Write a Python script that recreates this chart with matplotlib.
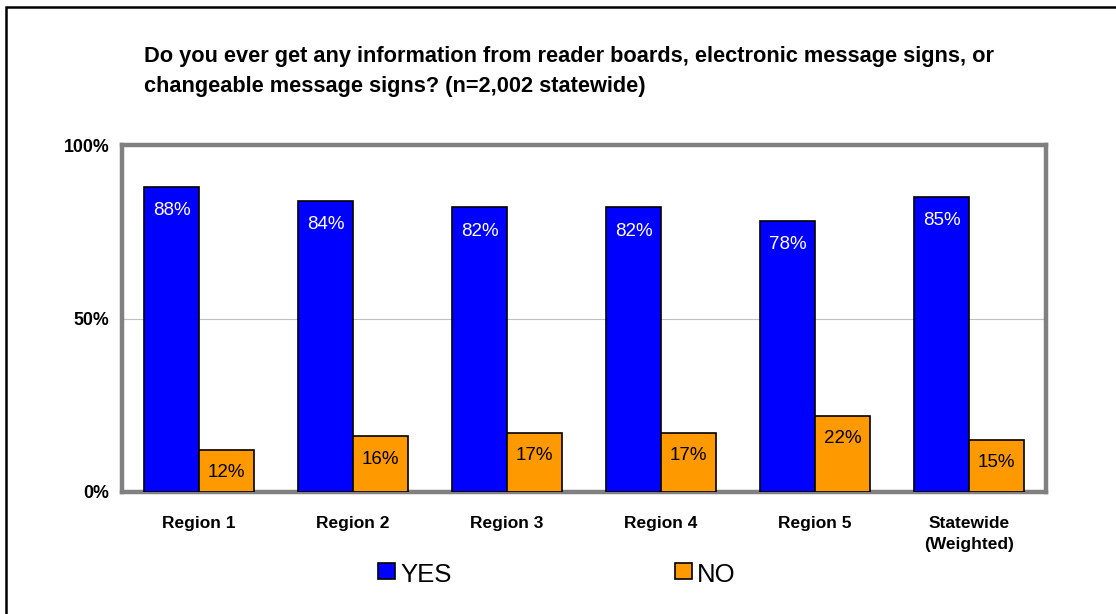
import matplotlib
matplotlib.use("Agg")
import matplotlib.pyplot as plt
from matplotlib.patches import Rectangle
import numpy as np

plt.rcParams["font.family"] = ["Liberation Sans", "DejaVu Sans"]

CATEGORIES = ["Region 1", "Region 2", "Region 3", "Region 4", "Region 5", "Statewide\n(Weighted)"]
YES = [88, 84, 82, 82, 78, 85]
NO = [12, 16, 17, 17, 22, 15]
Y_TICKS = [0, 50, 100]
TITLE = ("Do you ever get any information from reader boards, electronic message signs, or\n"
         "changeable message signs? (n=2,002 statewide)")

W, H = 1116, 614
fig = plt.figure(figsize=(W / 100, H / 100), dpi=100)

# outer black frame (runs off the right and bottom edges)
fig.add_artist(Rectangle((5.5 / W, -0.05), 1.2, (H - 7) / H + 0.05,
                         transform=fig.transFigure, fill=False, edgecolor="black", lw=1.8))

ax = fig.add_axes([122 / W, 1 - 492 / H, (1046 - 122) / W, (492 - 145) / H])
x = np.arange(len(CATEGORIES))
bw = 0.355
yes_bars = ax.bar(x - bw / 2, YES, bw, color="#0000ff", edgecolor="black", lw=1.2, label="YES", zorder=3)
no_bars = ax.bar(x + bw / 2, NO, bw, color="#ff9900", edgecolor="black", lw=1.2, label="NO", zorder=3)

for b, v in zip(yes_bars, YES):
    ax.text(b.get_x() + b.get_width() / 2, v - 6.8, f"{v}%", ha="center", va="center",
            color="white", fontsize=13.5, zorder=4)
for b, v in zip(no_bars, NO):
    ax.text(b.get_x() + b.get_width() / 2, v - 6.5, f"{v}%", ha="center", va="center",
            color="black", fontsize=13.5, zorder=4)

ax.set_xlim(-0.5, len(CATEGORIES) - 0.5)
ax.set_ylim(0, 100)
ax.set_yticks(Y_TICKS)
ax.set_yticklabels([f"{t}%" for t in Y_TICKS], fontweight="bold", fontsize=12.8)
ax.axhline(50, color="#c0c0c0", lw=0.8, zorder=1)
ax.set_xticks(x)
ax.set_xticklabels(CATEGORIES, fontweight="bold", fontsize=12.5, linespacing=1.55)
ax.tick_params(length=0)
ax.tick_params(axis="x", pad=17)
ax.tick_params(axis="y", pad=9)
for s in ax.spines.values():
    s.set_color("#808080")
    s.set_linewidth(3.2)

fig.text(144 / W, 1 - 71.5 / H, TITLE, fontsize=15.7, fontweight="bold", va="center",
         ha="left", linespacing=1.55)

# legend: two entries spread apart
for label, color, lx in [("YES", "#0000ff", 378), ("NO", "#ff9900", 675)]:
    fig.add_artist(Rectangle((lx / W, 1 - 579 / H), 17 / W, 16 / H, transform=fig.transFigure,
                             facecolor=color, edgecolor="black", lw=1.2))
    fig.text((lx + 22) / W, 1 - 575 / H, label, fontsize=18.5, va="center", ha="left")

fig.savefig("out.png", dpi=100)
